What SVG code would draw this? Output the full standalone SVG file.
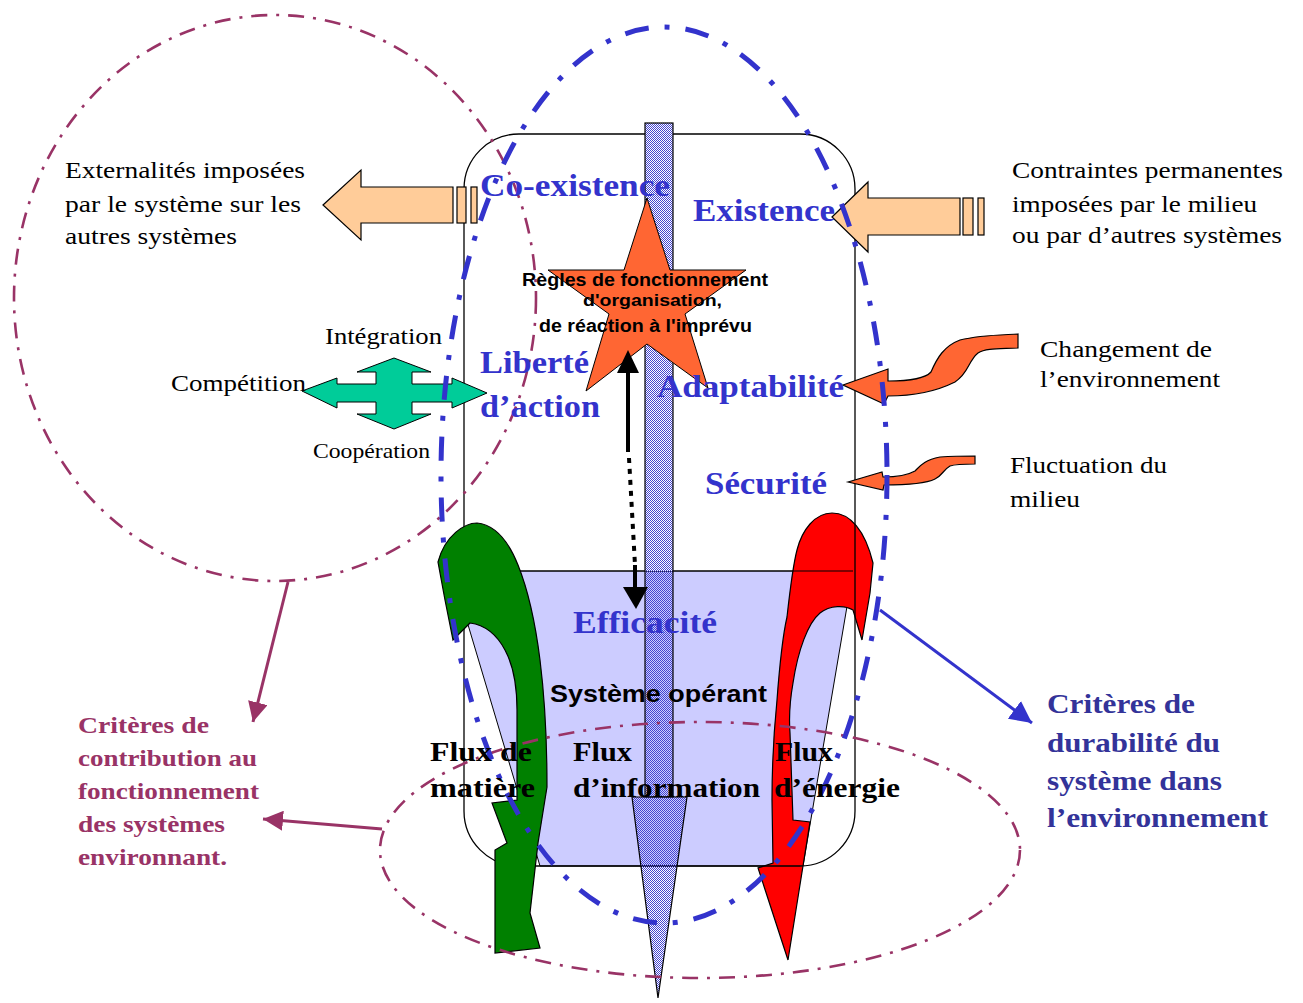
<svg xmlns="http://www.w3.org/2000/svg" width="1303" height="1003" viewBox="0 0 1303 1003">
<defs>
<style>
.serif{font-family:"Liberation Serif","Times New Roman",serif}
.sans{font-family:"Liberation Sans",Arial,sans-serif;font-weight:bold}
.blk{fill:#000;font-size:24px}
.lbl{fill:#3333CC;font-size:32px;font-weight:bold}
.flux{fill:#000;font-size:28px;font-weight:bold}
.dur{fill:#333399;font-size:28px;font-weight:bold}
.con{fill:#993366;font-size:24px;font-weight:bold}
.outl{stroke:#000;stroke-width:1.2}
</style>
<pattern id="hatch" width="2" height="2" patternUnits="userSpaceOnUse">
<rect x="0" y="0" width="1" height="1" fill="#4444D0"/>
<rect x="1" y="1" width="1" height="1" fill="#4444D0"/>
</pattern>
<marker id="mMaroon" viewBox="0 0 10 10" refX="10" refY="5" markerWidth="20" markerHeight="20" markerUnits="userSpaceOnUse" orient="auto">
<path d="M0,0 L10,5 L0,10 Z" fill="#993366"/>
</marker>
<marker id="mBlue" viewBox="0 0 10 10" refX="10" refY="5" markerWidth="22" markerHeight="22" markerUnits="userSpaceOnUse" orient="auto">
<path d="M0,0 L10,5 L0,10 Z" fill="#3333CC"/>
</marker>
</defs>
<rect width="1303" height="1003" fill="#fff"/>

<g id="operating-system">
<polygon points="466,618 520,571 853,571 803,866 540,866" fill="#CCCCFF" stroke="#000" stroke-width="1"/>
</g>

<g id="flux-energie">
<path d="M797,550 C802,530 815,513 832,513 C850,513 865,530 873,563 L870,593 L862,640 L853,610 C845,605 830,605 820,613 C808,623 798,650 793,683 C790,700 789,720 790,733 L793,820 L810,822 L788,960 L758,868 L773,863 L772,800 C772,760 774,730 777,700 C780,660 784,630 787,617 C790,590 793,565 797,550 Z" fill="#FF0000" class="outl"/>
</g>

<g id="system-frame">
<rect x="464" y="134" width="391" height="732" rx="55" ry="55" fill="none" stroke="#000" stroke-width="1.3"/>
<line x1="520" y1="571" x2="853" y2="571" stroke="#000" stroke-width="1.2"/>
</g>

<g id="information-bar">
<rect x="645" y="123" width="28" height="448" fill="#fff"/>
<rect x="645" y="123" width="28" height="674" fill="url(#hatch)" class="outl"/>
<polygon points="632,797 687,797 658,998" fill="url(#hatch)" class="outl"/>
</g>

<g id="star">
<polygon points="647,198 670,270 746,270 685,314 708,388 647,344 586,391 609,314 548,270 624,270" fill="#FF6633" stroke="#000" stroke-width="1"/>
</g>

<g id="flux-matiere">
<path d="M477,523 C465,523 445,535 438,562 L445,600 L453,640 L470,623 C485,625 497,635 505,650 C513,665 517,685 517,710 L517,800 L492,803 L507,843 L495,850 L495,953 L540,948 L530,913 L538,843 L547,787 C547,740 545,700 540,660 C535,620 528,590 518,565 C510,545 497,525 477,523 Z" fill="#008000" class="outl"/>
</g>

<g id="interaction-cross">
<polygon points="394,358 431,372 412,372 412,384 452,384 452,378 487,393 452,408 452,402 412,402 412,414 431,414 394,429 357,414 376,414 376,402 337,402 337,408 302,391 337,378 337,384 376,384 376,372 357,372" fill="#00CC99" stroke="#000" stroke-width="1"/>
</g>

<g id="externalites-arrow">
<polygon points="323,205 361,170 361,187 453,187 453,223 361,223 361,240" fill="#FFCC99" class="outl"/>
<rect x="457" y="187" width="9" height="36" fill="#FFCC99" class="outl"/>
<rect x="471" y="187" width="6" height="36" fill="#FFCC99" class="outl"/>
</g>

<g id="contraintes-arrow">
<polygon points="832,217 868,182 868,198 960,198 960,235 868,235 868,252" fill="#FFCC99" class="outl"/>
<rect x="963" y="198" width="10" height="37" fill="#FFCC99" class="outl"/>
<rect x="978" y="198" width="6" height="37" fill="#FFCC99" class="outl"/>
</g>

<g id="changement-arrow">
<path d="M843,385 L888,369 L888,381 C905,381 924,380 931,372 C937,358 944,346 960,340 C980,335 1000,335 1018,334 L1018,348 C1000,349 986,348 978,353 C968,361 969,373 955,382 C935,392 910,396 888,396 L884,404 Z" fill="#FF6633" class="outl"/>
</g>

<g id="fluctuation-arrow">
<path d="M848,482 L882,472 L883,477 C898,477 908,475 915,471 C920,466 924,460 940,457 C955,456 965,456 975,456 L975,464 C965,464 956,464 950,466 C943,470 942,476 935,479 C925,484 905,485 884,485 L883,490 Z" fill="#FF6633" class="outl"/>
</g>

<g id="boundaries" fill="none">
<ellipse cx="275" cy="298" rx="261" ry="283" stroke="#993366" stroke-width="2.6" stroke-dasharray="16 9 3 9"/>
<ellipse cx="700" cy="850" rx="320" ry="128" stroke="#993366" stroke-width="2.6" stroke-dasharray="16 9 3 9"/>
<ellipse cx="664" cy="475" rx="223" ry="448" stroke="#3333CC" stroke-width="5" stroke-dasharray="24 16 5 16"/>
</g>

<g id="connectors">
<line x1="288" y1="582" x2="253" y2="722" stroke="#993366" stroke-width="3" marker-end="url(#mMaroon)"/>
<line x1="382" y1="829" x2="263" y2="819" stroke="#993366" stroke-width="3" marker-end="url(#mMaroon)"/>
<line x1="880" y1="610" x2="1032" y2="723" stroke="#3333CC" stroke-width="3" marker-end="url(#mBlue)"/>
<line x1="628" y1="370" x2="628" y2="452" stroke="#000" stroke-width="4"/>
<polygon points="628,350 617,373 639,373" fill="#000"/>
<line x1="629" y1="458" x2="635" y2="565" stroke="#000" stroke-width="4" stroke-dasharray="5 6"/>
<line x1="635" y1="565" x2="635" y2="590" stroke="#000" stroke-width="4"/>
<polygon points="623,587 648,587 636,609" fill="#000"/>
</g>

<g id="labels">
<text class="serif blk" x="65" y="178" textLength="240" lengthAdjust="spacingAndGlyphs">Externalités imposées</text>
<text class="serif blk" x="65" y="212" textLength="236" lengthAdjust="spacingAndGlyphs">par le système sur les</text>
<text class="serif blk" x="65" y="244" textLength="172" lengthAdjust="spacingAndGlyphs">autres systèmes</text>

<text class="serif blk" x="1012" y="178" textLength="271" lengthAdjust="spacingAndGlyphs">Contraintes permanentes</text>
<text class="serif blk" x="1012" y="212" textLength="245" lengthAdjust="spacingAndGlyphs">imposées par le milieu</text>
<text class="serif blk" x="1012" y="243" textLength="270" lengthAdjust="spacingAndGlyphs">ou par d’autres systèmes</text>

<text class="serif blk" x="1040" y="357" textLength="172" lengthAdjust="spacingAndGlyphs">Changement de</text>
<text class="serif blk" x="1040" y="387" textLength="180" lengthAdjust="spacingAndGlyphs">l’environnement</text>
<text class="serif blk" x="1010" y="473" textLength="157" lengthAdjust="spacingAndGlyphs">Fluctuation du</text>
<text class="serif blk" x="1010" y="507" textLength="70" lengthAdjust="spacingAndGlyphs">milieu</text>

<text class="serif blk" x="325" y="344" textLength="117" lengthAdjust="spacingAndGlyphs">Intégration</text>
<text class="serif blk" x="171" y="391" textLength="135" lengthAdjust="spacingAndGlyphs">Compétition</text>
<text class="serif blk" x="313" y="458" textLength="117" lengthAdjust="spacingAndGlyphs" style="font-size:22px">Coopération</text>

<text class="serif lbl" x="480" y="196" textLength="190" lengthAdjust="spacingAndGlyphs">Co-existence</text>
<text class="serif lbl" x="693" y="221" textLength="142" lengthAdjust="spacingAndGlyphs">Existence</text>
<text class="serif lbl" x="480" y="373" textLength="109" lengthAdjust="spacingAndGlyphs">Liberté</text>
<text class="serif lbl" x="480" y="417" textLength="120" lengthAdjust="spacingAndGlyphs">d’action</text>
<text class="serif lbl" x="657" y="397" textLength="187" lengthAdjust="spacingAndGlyphs">Adaptabilité</text>
<text class="serif lbl" x="705" y="494" textLength="122" lengthAdjust="spacingAndGlyphs">Sécurité</text>
<text class="serif lbl" x="573" y="633" textLength="144" lengthAdjust="spacingAndGlyphs">Efficacité</text>

<text class="sans" x="522" y="286" font-size="18" fill="#000" textLength="246" lengthAdjust="spacingAndGlyphs">Règles de fonctionnement</text>
<text class="sans" x="583" y="306" font-size="17" fill="#000" textLength="139" lengthAdjust="spacingAndGlyphs">d'organisation,</text>
<text class="sans" x="539" y="332" font-size="18" fill="#000" textLength="213" lengthAdjust="spacingAndGlyphs">de réaction à l'imprévu</text>

<text class="sans" x="550" y="702" font-size="24" fill="#000" textLength="217" lengthAdjust="spacingAndGlyphs">Système opérant</text>

<text class="serif flux" x="430" y="761" textLength="102" lengthAdjust="spacingAndGlyphs">Flux de</text>
<text class="serif flux" x="430" y="797" textLength="105" lengthAdjust="spacingAndGlyphs">matière</text>
<text class="serif flux" x="573" y="761" textLength="59" lengthAdjust="spacingAndGlyphs">Flux</text>
<text class="serif flux" x="573" y="797" textLength="187" lengthAdjust="spacingAndGlyphs">d’information</text>
<text class="serif flux" x="775" y="761" textLength="58" lengthAdjust="spacingAndGlyphs">Flux</text>
<text class="serif flux" x="774" y="797" textLength="126" lengthAdjust="spacingAndGlyphs">d’énergie</text>

<text class="serif dur" x="1047" y="713" textLength="148" lengthAdjust="spacingAndGlyphs">Critères de</text>
<text class="serif dur" x="1047" y="752" textLength="173" lengthAdjust="spacingAndGlyphs">durabilité du</text>
<text class="serif dur" x="1047" y="790" textLength="175" lengthAdjust="spacingAndGlyphs">système dans</text>
<text class="serif dur" x="1047" y="827" textLength="221" lengthAdjust="spacingAndGlyphs">l’environnement</text>

<text class="serif con" x="78" y="733" textLength="131" lengthAdjust="spacingAndGlyphs">Critères de</text>
<text class="serif con" x="78" y="766" textLength="179" lengthAdjust="spacingAndGlyphs">contribution au</text>
<text class="serif con" x="78" y="799" textLength="181" lengthAdjust="spacingAndGlyphs">fonctionnement</text>
<text class="serif con" x="78" y="832" textLength="147" lengthAdjust="spacingAndGlyphs">des systèmes</text>
<text class="serif con" x="78" y="865" textLength="149" lengthAdjust="spacingAndGlyphs">environnant.</text>
</g>
</svg>
